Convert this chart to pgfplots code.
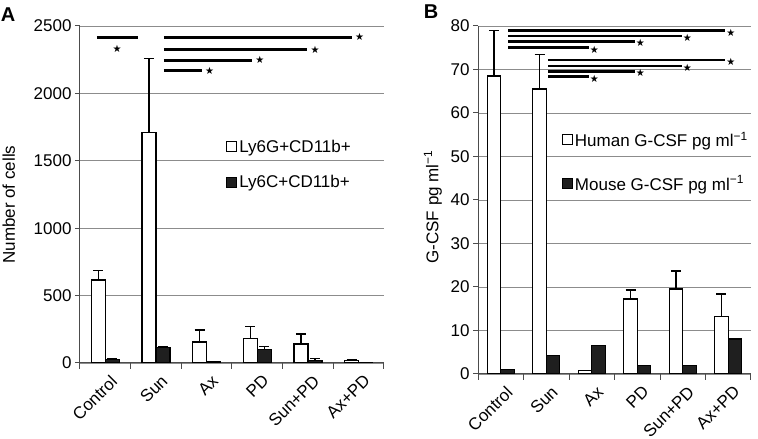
\documentclass[border=0pt]{standalone}
\usepackage{pgfplots}
\pgfplotsset{compat=1.18}
\usepackage{fontspec}
\setmainfont{Liberation Sans}
\newfontfamily\sym{DejaVu Sans}
\definecolor{gridc}{gray}{0.55}
\definecolor{axc}{gray}{0.3}
\definecolor{darkbar}{gray}{0.12}
\pgfplotsset{
  common/.style={
    scale only axis,
    anchor=south west,
    font=\fontsize{17}{20}\selectfont,
    tick label style={font=\fontsize{17}{20}\selectfont},
    /pgf/number format/assume math mode=true,
    /pgf/number format/1000 sep={},
    axis x line*=bottom, axis y line*=left,
    axis line style={axc, line width=1pt, -},
    xmin=-0.5, xmax=5.5,
    xtick={0,1,2,3,4,5},
    xticklabels={Control,Sun,Ax,PD,Sun+PD,Ax+PD},
    minor xtick={-0.5,0.5,1.5,2.5,3.5,4.5,5.5},
    major x tick style={draw=none},
    minor tick length=6pt,
    major tick length=5pt,
    tick align=outside,
    tick style={axc, line width=1pt},
    xticklabel style={rotate=45, anchor=north east, inner sep=1pt, yshift=-6pt, xshift=0pt},
    ymajorgrids,
    grid style={gridc, line width=0.9pt},
    ybar=0pt,
    legend cell align=left,
    legend image code/.code={\draw[#1, line width=1.2pt] (0pt,-5pt) rectangle (10pt,5pt);},
    error bars/y dir=plus, error bars/y explicit,
    error bars/error bar style={black, line width=1.3pt},
    error bars/error mark options={rotate=90, black, line width=1.3pt, mark size=5pt},
  },
  whitebar/.style={draw=black, fill=white, line width=1.4pt},
  darkbar/.style={draw=black, fill=darkbar, line width=1.4pt},
}
\newcommand{\st}{{\sym\fontsize{10}{10}\selectfont ★}}
\begin{document}
\begin{tikzpicture}
\path[use as bounding box] (0pt,0pt) rectangle (758pt,439pt);
\node[font=\fontsize{20}{20}\selectfont\bfseries] at (8pt,424pt) {A};
\node[font=\fontsize{20}{20}\selectfont\bfseries] at (431pt,427pt) {B};
\begin{axis}[common,
  at={(80pt,76pt)}, width=304pt, height=337pt,
  bar width=14pt,
  ymin=0, ymax=2500, ytick={0,500,1000,1500,2000,2500},
  ylabel={Number of cells},
  ylabel style={at={(axis description cs:-0.234,0.47)}, anchor=center},
  legend style={draw=none, fill=none, at={(0.47,0.675)}, anchor=north west, row sep=18pt, font=\fontsize{17}{20}\selectfont},
]
\addplot[whitebar, error bars/.cd, y dir=plus, y explicit] coordinates {
  (0,615) +- (0,70) (1,1710) +- (0,550) (2,155) +- (0,90)
  (3,180) +- (0,90) (4,140) +- (0,75) (5,20) +- (0,8)};
\addplot[darkbar, error bars/.cd, y dir=plus, y explicit] coordinates {
  (0,25) +- (0,8) (1,115) +- (0,8) (2,8) +- (0,3)
  (3,100) +- (0,22) (4,18) +- (0,15) (5,3) +- (0,1)};
\legend{Ly6G+CD11b+, Ly6C+CD11b+}
\draw[line width=2.8pt] (axis cs:-0.165,2415) -- (axis cs:0.644,2415);
\node[inner sep=0] at (axis cs:0.23,2330) {\st};
\draw[line width=2.8pt] (axis cs:1.157,2415) -- (axis cs:4.86,2415);
\node[inner sep=0] at (axis cs:5.02,2420) {\st};
\draw[line width=2.8pt] (axis cs:1.157,2325) -- (axis cs:3.98,2325);
\node[inner sep=0] at (axis cs:4.14,2320) {\st};
\draw[line width=2.8pt] (axis cs:1.157,2245) -- (axis cs:2.89,2245);
\node[inner sep=0] at (axis cs:3.05,2245) {\st};
\draw[line width=2.8pt] (axis cs:1.157,2170) -- (axis cs:1.91,2170);
\node[inner sep=0] at (axis cs:2.06,2165) {\st};
\end{axis}
\begin{axis}[common,
  at={(478pt,65pt)}, width=273pt, height=348pt,
  bar width=13.5pt,
  ymin=0, ymax=80, ytick={0,10,...,80},
  ylabel={G-CSF pg ml\textsuperscript{−1}},
  ylabel style={at={(axis description cs:-0.165,0.48)}, anchor=center},
  legend style={draw=none, fill=none, at={(0.295,0.708)}, anchor=north west, row sep=24pt, font=\fontsize{17}{20}\selectfont},
]
\addplot[whitebar, error bars/.cd, y dir=plus, y explicit] coordinates {
  (0,68.5) +- (0,10.5) (1,65.5) +- (0,8) (2,0.8) +- (0,0)
  (3,17.2) +- (0,2.1) (4,19.5) +- (0,4.2) (5,13.2) +- (0,5.2)};
\addplot[darkbar] coordinates {
  (0,1.0) (1,4.2) (2,6.5) (3,2.0) (4,2.0) (5,8.0)};
\legend{Human G-CSF pg ml\textsuperscript{−1}, Mouse G-CSF pg ml\textsuperscript{−1}}
\draw[line width=2.8pt] (axis cs:0.16,78.9) -- (axis cs:4.93,78.9);
\node[inner sep=0] at (axis cs:5.06,78.5) {\st};
\draw[line width=2.8pt] (axis cs:0.16,77.7) -- (axis cs:3.98,77.7);
\node[inner sep=0] at (axis cs:4.1,77.3) {\st};
\draw[line width=2.8pt] (axis cs:0.16,76.5) -- (axis cs:2.95,76.5);
\node[inner sep=0] at (axis cs:3.07,76.1) {\st};
\draw[line width=2.8pt] (axis cs:0.16,75.1) -- (axis cs:1.94,75.1);
\node[inner sep=0] at (axis cs:2.06,74.6) {\st};
\draw[line width=2.8pt] (axis cs:1.04,72.2) -- (axis cs:4.93,72.2);
\node[inner sep=0] at (axis cs:5.06,71.8) {\st};
\draw[line width=2.8pt] (axis cs:1.04,70.8) -- (axis cs:3.98,70.8);
\node[inner sep=0] at (axis cs:4.1,70.4) {\st};
\draw[line width=2.8pt] (axis cs:1.04,69.6) -- (axis cs:2.95,69.6);
\node[inner sep=0] at (axis cs:3.07,69.2) {\st};
\draw[line width=2.8pt] (axis cs:1.04,68.3) -- (axis cs:1.94,68.3);
\node[inner sep=0] at (axis cs:2.06,67.8) {\st};
\end{axis}
\end{tikzpicture}
\end{document}
